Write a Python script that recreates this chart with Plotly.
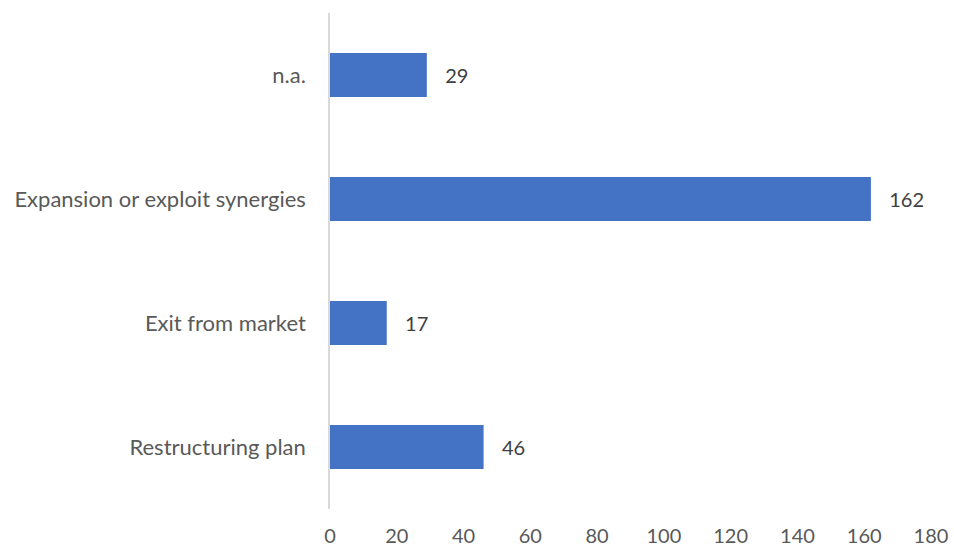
import plotly.graph_objects as go

# Deal motives and number of transactions per motive
categories = ["Restructuring plan", "Exit from market", "Expansion or exploit synergies", "n.a."]
counts = [46, 17, 162, 29]
x_ticks = [0, 20, 40, 60, 80, 100, 120, 140, 160, 180]

BAR_COLOR = "#4472C4"
LABEL_COLOR = "#595959"
VALUE_COLOR = "#404040"
FONT = "Lato, Open Sans, sans-serif"

fig = go.Figure(
    go.Bar(
        x=counts,
        y=categories,
        orientation="h",
        marker=dict(color=BAR_COLOR, line=dict(width=0)),
        text=counts,
        texttemplate="   %{x}",
        textposition="outside",
        textfont=dict(family=FONT, size=20, color=VALUE_COLOR),
        cliponaxis=False,
    )
)

fig.update_layout(
    width=954,
    height=550,
    margin=dict(l=330, r=23, t=13, b=41),
    paper_bgcolor="white",
    plot_bgcolor="white",
    bargap=0.645,
    showlegend=False,
    font=dict(family=FONT, size=20, color=LABEL_COLOR),
)

fig.update_xaxes(
    range=[0, 180],
    tickvals=x_ticks,
    showgrid=False,
    zeroline=False,
    showline=False,
    ticks="",
    automargin=False,
    ticklabelstandoff=13,
    tickfont=dict(family=FONT, size=20, color=LABEL_COLOR),
)

fig.update_yaxes(
    categoryorder="array",
    categoryarray=categories,
    showgrid=False,
    zeroline=False,
    showline=True,
    linecolor="#D9D9D9",
    linewidth=1.5,
    ticks="",
    automargin=False,
    ticklabelstandoff=18,
    tickfont=dict(family=FONT, size=22, color=LABEL_COLOR),
)

fig.write_html("out.html")
